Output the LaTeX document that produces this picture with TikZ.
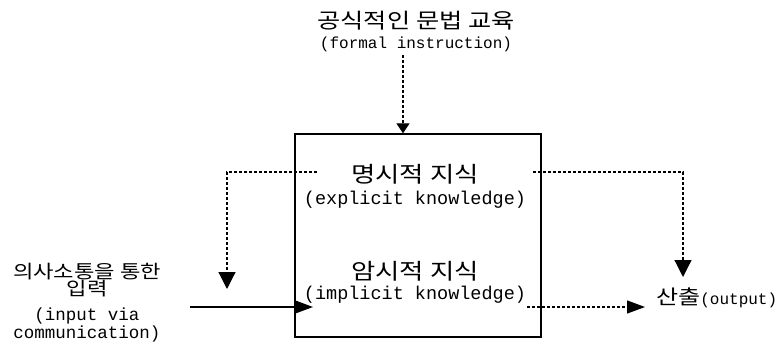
\documentclass[tikz,border=0pt]{standalone}
\usepackage{fontspec}
\setmainfont{Liberation Mono}
\newfontfamily\kr[FakeStretch=1.2]{Noto Sans CJK KR}
\usetikzlibrary{arrows.meta}

\tikzset{
  krtop/.style={font={\kr\fontsize{21}{23}\selectfont}, inner sep=0pt},
  krbox/.style={font={\kr\fontsize{22}{24}\selectfont}, inner sep=0pt},
  krside/.style={font={\kr\fontsize{18.5}{20}\selectfont}, inner sep=0pt},
  enbox/.style={font={\fontsize{18.5}{20}\selectfont}, inner sep=0pt},
  entop/.style={font={\fontsize{16}{18}\selectfont}, inner sep=0pt},
  enside/.style={font={\fontsize{17.5}{19}\selectfont}, inner sep=0pt},
  dots/.style={line width=1.2pt, dash pattern=on 3pt off 2pt},
  bigtip/.style={-{Triangle[length=17pt,width=17pt]}},
  smalltip/.style={-{Triangle[length=10pt,width=13pt]}},
  sidetip/.style={-{Triangle[length=18pt,width=13pt]}}
}

\begin{document}
\begin{tikzpicture}[x=1pt,y=-1pt]
  \useasboundingbox (0,0) rectangle (776,350);
  % the knowledge box
  \node[draw, line width=1.4pt, minimum width=246pt, minimum height=203pt, inner sep=0pt] (box) at (418,235.5) {};
  \node[krbox] (expl-kr) at (415,174) {명시적 지식};
  \node[enbox] (expl-en) at (415,200) {(explicit knowledge)};
  \node[krbox] (impl-kr) at (415,271) {암시적 지식};
  \node[enbox] (impl-en) at (415,295) {(implicit knowledge)};
  % labels round it
  \node[krtop] (formal-kr) at (416,21) {공식적인 문법 교육};
  \node[entop] (formal-en) at (416,44) {(formal instruction)};
  \node[krside] (input-kr1) at (87,272) {의사소통을 통한};
  \node[krside] (input-kr2) at (87,289) {입력};
  \node[enside] (input-en1) at (87,316) {(input via};
  \node[enside] (input-en2) at (87,334) {communication)};
  \node[entop, anchor=west] (output) at (656,298) {{\kr\fontsize{20}{22}\selectfont 산출}(output)};
  % connectors
  \coordinate (fi-start) at (403,55);
  \draw[dots, smalltip] (fi-start) -- (fi-start |- box.north);
  \coordinate (ex-l) at (317,172);
  \coordinate (fb-l) at (227,289);
  \draw[dots, bigtip] (ex-l) -- (ex-l -| fb-l) -- (fb-l);
  \coordinate (ex-r) at (533,172);
  \coordinate (fb-r) at (683,277);
  \draw[dots, bigtip] (ex-r) -- (ex-r -| fb-r) -- (fb-r);
  \coordinate (in-start) at (190,307);
  \coordinate (in-end) at (313,307);
  \draw[line width=1.4pt, sidetip] (in-start) -- (in-end);
  \coordinate (out-start) at (527,307);
  \coordinate (out-end) at (645,307);
  \draw[dots, sidetip] (out-start) -- (out-end);
\end{tikzpicture}
\end{document}
